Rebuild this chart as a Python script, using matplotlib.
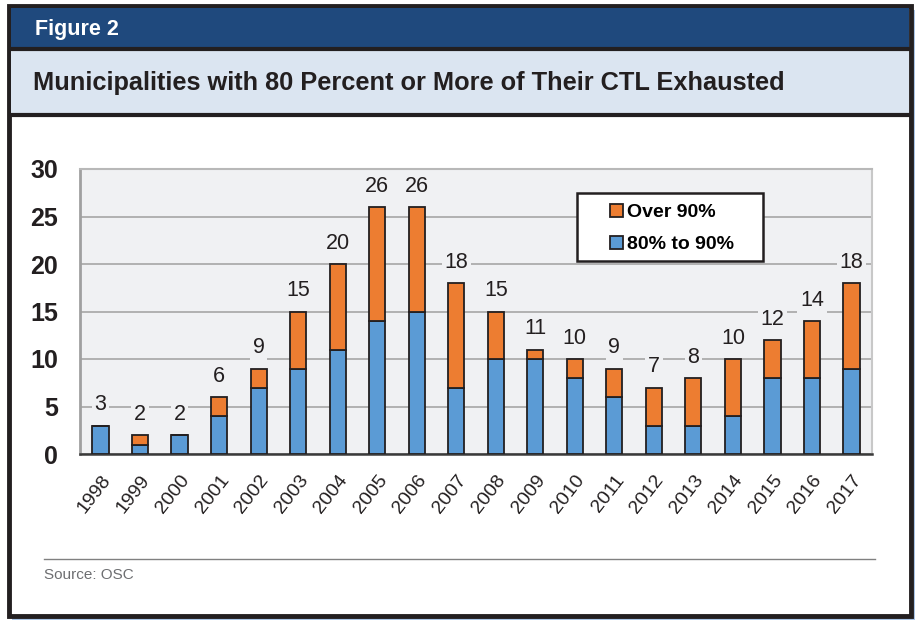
import matplotlib.pyplot as plt
from matplotlib.patches import Rectangle
from matplotlib.lines import Line2D
import numpy as np

years = [str(y) for y in range(1998, 2018)]
pct_80_90 = [3, 1, 2, 4, 7, 9, 11, 14, 15, 7, 10, 10, 8, 6, 3, 3, 4, 8, 8, 9]
over_90 = [0, 1, 0, 2, 2, 6, 9, 12, 11, 11, 5, 1, 2, 3, 4, 5, 6, 4, 6, 9]
totals = [3, 2, 2, 6, 9, 15, 20, 26, 26, 18, 15, 11, 10, 9, 7, 8, 10, 12, 14, 18]

BLUE = '#5B9BD5'
ORANGE = '#ED7D31'
NAVY = '#1F497D'
PALE = '#DBE5F1'
PLOT_BG = '#F0F1F3'
FONT = ['Liberation Sans', 'DejaVu Sans']

W, H = 915, 620
fig = plt.figure(figsize=(W / 100, H / 100), dpi=100)


def box(x0, y0, x1, y1, **kw):
    # pixel coords (top-left origin) -> figure fraction
    fig.patches.append(Rectangle((x0 / W, 1 - y1 / H), (x1 - x0) / W, (y1 - y0) / H,
                                 transform=fig.transFigure, zorder=-5, **kw))


# frame, shadow, header bands
box(12, 10, 915, 620, facecolor='#A9C4E6', edgecolor='none')
box(9, 6, 911, 616, facecolor='white', edgecolor='#231F20', linewidth=3.5)
box(11, 8, 909, 48, facecolor=NAVY, edgecolor='none')
box(11, 48, 909, 115, facecolor=PALE, edgecolor='none')
fig.lines.append(Line2D([11 / W, 909 / W], [1 - 49 / H] * 2, transform=fig.transFigure,
                        color='#231F20', linewidth=3))
fig.lines.append(Line2D([11 / W, 909 / W], [1 - 115 / H] * 2, transform=fig.transFigure,
                        color='#231F20', linewidth=3))

fig.text(35 / W, 1 - 29 / H, 'Figure 2', color='white', fontsize=15.5, fontweight='bold',
         family=FONT, va='center', ha='left')
fig.text(33 / W, 1 - 83 / H, 'Municipalities with 80 Percent or More of Their CTL Exhausted',
         color='#231F20', fontsize=18.3, fontweight='bold', family=FONT, va='center', ha='left')

# chart
ax = fig.add_axes([80 / W, 1 - 454 / H, (872 - 80) / W, (454 - 169) / H])
ax.set_facecolor(PLOT_BG)
x = np.arange(len(years))
ax.bar(x, pct_80_90, width=0.41, color=BLUE, edgecolor='#231F20', linewidth=1.3,
       label='80% to 90%', zorder=3)
ax.bar(x, over_90, width=0.41, bottom=pct_80_90, color=ORANGE, edgecolor='#231F20',
       linewidth=1.3, label='Over 90%', zorder=3)

for xi, t in zip(x, totals):
    ax.annotate(str(t), (xi, t), xytext=(0, 15), textcoords='offset points',
                ha='center', va='center', fontsize=15.5, family=FONT, color='#231F20',
                bbox=dict(facecolor=PLOT_BG, edgecolor='none', pad=2), zorder=4)

ax.set_ylim(0, 30)
ax.set_xlim(-0.52, 19.52)
ax.set_yticks(range(0, 31, 5))
ax.yaxis.grid(True, color='#A6A6A6', linewidth=1.2, zorder=0)
ax.set_axisbelow(True)
ax.tick_params(axis='both', length=0)
ax.tick_params(axis='y', pad=16)
for lab in ax.get_yticklabels():
    lab.set_fontsize(18)
    lab.set_fontweight('bold')
    lab.set_family(FONT)
    lab.set_color('#231F20')
ax.set_xticks(x)
ax.set_xticklabels(years, rotation=52, ha='right', rotation_mode='anchor',
                   fontsize=14, family=FONT, color='#231F20')
ax.tick_params(axis='x', pad=13)

ax.spines['left'].set_color('#A0A0A0')
ax.spines['left'].set_linewidth(2)
ax.spines['top'].set_color('#B8B8B8')
ax.spines['top'].set_linewidth(1.5)
ax.spines['right'].set_color('#C8C8C8')
ax.spines['right'].set_linewidth(1.5)
ax.spines['bottom'].set_color('#3A3A3A')
ax.spines['bottom'].set_linewidth(1.8)

# legend: white box with entries offset to the right
ax.add_patch(Rectangle(((577 - 80) / 792, 1 - (261 - 169) / 285), (763 - 577) / 792,
                       (261 - 193) / 285, transform=ax.transAxes, facecolor='white',
                       edgecolor='#231F20', linewidth=1.8, zorder=5))
handles, labels = ax.get_legend_handles_labels()
leg = ax.legend(handles[::-1], labels[::-1], loc='upper left',
                bbox_to_anchor=((606 - 80) / 792, 1 - (200 - 169) / 285),
                frameon=False, handlelength=0.65, handleheight=0.65,
                handletextpad=0.25, borderpad=0.2, labelspacing=0.75,
                prop={'family': FONT, 'weight': 'bold', 'size': 14},
                borderaxespad=0)
leg.set_zorder(6)

# source
fig.lines.append(Line2D([44 / W, 875 / W], [1 - 559 / H] * 2, transform=fig.transFigure,
                        color='#808080', linewidth=1))
fig.text(44 / W, 1 - 575 / H, 'Source: OSC', color='#6D6E71', fontsize=11,
         family=FONT, va='center', ha='left')

fig.savefig('out.png', dpi=100)
